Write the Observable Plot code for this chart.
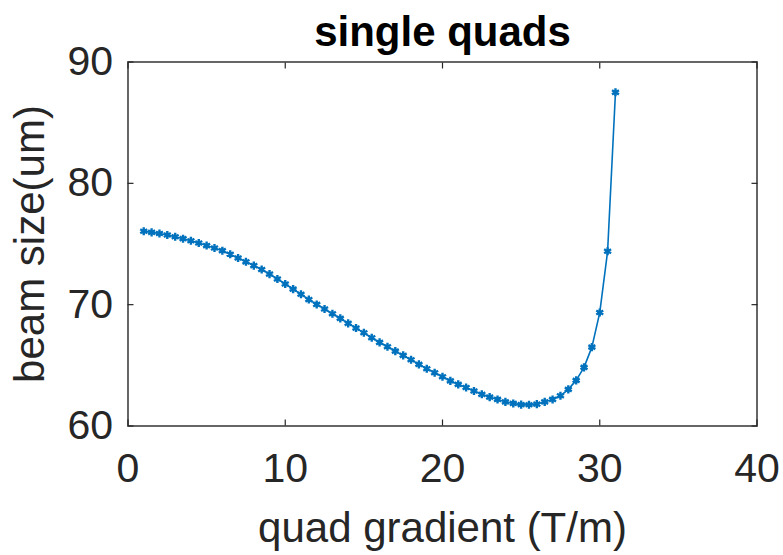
<!DOCTYPE html>
<html>
<head>
<meta charset="utf-8">
<script src="https://cdn.jsdelivr.net/npm/d3@7"></script>
<script src="https://cdn.jsdelivr.net/npm/@observablehq/plot@0.6"></script>
<style>
  html, body { margin: 0; padding: 0; background: #fff; }
  #chart svg { display: block; }
</style>
</head>
<body>
<div id="chart"></div>
<script>
// Quadrupole gradient sweep (T/m) and resulting beam size (um)
const gradient = [
  1, 1.5, 2, 2.5, 3, 3.5, 4, 4.5, 5, 5.5,
  6, 6.5, 7, 7.5, 8, 8.5, 9, 9.5, 10, 10.5,
  11, 11.5, 12, 12.5, 13, 13.5, 14, 14.5, 15, 15.5,
  16, 16.5, 17, 17.5, 18, 18.5, 19, 19.5, 20, 20.5,
  21, 21.5, 22, 22.5, 23, 23.5, 24, 24.5, 25, 25.5,
  26, 26.5, 27, 27.5, 28, 28.5, 29, 29.5, 30, 30.5, 31
];
const beamSize = [
  76.05, 75.96, 75.86, 75.74, 75.60, 75.44, 75.27, 75.08, 74.87, 74.67,
  74.45, 74.15, 73.85, 73.53, 73.22, 72.90, 72.52, 72.12, 71.70, 71.28,
  70.86, 70.42, 70.02, 69.64, 69.25, 68.87, 68.46, 68.07, 67.68, 67.27,
  66.89, 66.53, 66.17, 65.82, 65.46, 65.08, 64.72, 64.39, 64.06, 63.72,
  63.43, 63.17, 62.88, 62.61, 62.38, 62.19, 61.99, 61.86, 61.76, 61.75,
  61.80, 61.99, 62.19, 62.49, 63.02, 63.76, 64.83, 66.50, 69.35, 74.40, 87.50
];
const xTicks = [0, 10, 20, 30, 40];
const yTicks = [60, 70, 80, 90];
const titleText = "single quads";
const xLabel = "quad gradient (T/m)";
const yLabel = "beam size(um)";

const rows = gradient.map((g, i) => ({g, s: beamSize[i]}));

const ink = "#262626";
const blue = "#0072BD";
const font = "Liberation Sans, Arial, Helvetica, sans-serif";

const chart = Plot.plot({
  width: 783,
  height: 555,
  marginLeft: 127.5,
  marginRight: 26.5,
  marginTop: 61.5,
  marginBottom: 129.5,
  style: {fontFamily: font, background: "#fff", color: ink},
  x: {domain: [0, 40], ticks: xTicks},
  y: {domain: [60, 90], ticks: yTicks},
  marks: [
    // inward ticks on all four sides
    Plot.axisX(xTicks, {anchor: "bottom", tickSize: -6, tickFormat: () => "", stroke: ink, strokeWidth: 1.2, label: null}),
    Plot.axisX(xTicks, {anchor: "top", tickSize: -6, tickFormat: () => "", stroke: ink, strokeWidth: 1.2, label: null}),
    Plot.axisY(yTicks, {anchor: "left", tickSize: -6, tickFormat: () => "", stroke: ink, strokeWidth: 1.2, label: null}),
    Plot.axisY(yTicks, {anchor: "right", tickSize: -6, tickFormat: () => "", stroke: ink, strokeWidth: 1.2, label: null}),
    // tick labels
    Plot.axisX(xTicks, {anchor: "bottom", tickSize: 0, tickPadding: 27, fontSize: 41, fill: ink, label: null}),
    Plot.axisY(yTicks, {anchor: "left", tickSize: 0, tickPadding: 15, fontSize: 41, fill: ink, label: null}),
    Plot.frame({stroke: ink, strokeWidth: 1.4}),
    // data
    Plot.line(rows, {x: "g", y: "s", stroke: blue, strokeWidth: 1.6}),
    Plot.dot(rows, {x: "g", y: "s", symbol: "asterisk", r: 3.8, stroke: blue, strokeWidth: 2.4}),
    // title and axis labels
    Plot.text([titleText], {frameAnchor: "top", dy: -29, fontSize: 42, fontWeight: "bold", fill: "#000", lineAnchor: "middle"}),
    Plot.text([xLabel], {frameAnchor: "bottom", dy: 103, fontSize: 42, fill: ink, lineAnchor: "middle", textAnchor: "middle"}),
    Plot.text([yLabel], {frameAnchor: "left", dx: -97.5, rotate: -90, fontSize: 42, fill: ink, lineAnchor: "middle", textAnchor: "middle"})
  ]
});

document.getElementById("chart").append(chart);
</script>
</body>
</html>
